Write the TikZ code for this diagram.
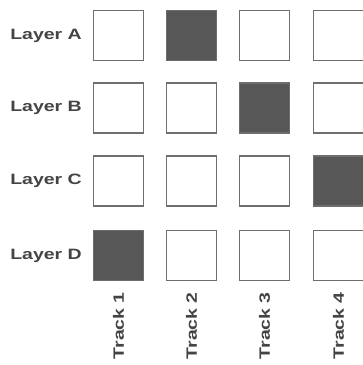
\documentclass[tikz,border=0pt]{standalone}
\usepackage{fontspec}
\setmainfont{Liberation Sans}
\usepackage{graphicx}
\definecolor{edgegray}{HTML}{6E6E6E}
\definecolor{darkfill}{HTML}{575757}
\definecolor{txtgray}{HTML}{444444}
\newcommand{\lbltext}[1]{\scalebox{1.3}[1]{\fontsize{15}{15}\selectfont #1}}
\begin{document}
\begin{tikzpicture}[x=1pt,y=-1pt,
  cell/.style={draw=edgegray,line width=1.4pt,minimum size=50pt,inner sep=0pt,fill=white},
  on/.style={cell,fill=darkfill},
  rowlbl/.style={anchor=east,inner sep=0pt,text=txtgray,font=\bfseries},
  collbl/.style={anchor=east,rotate=90,inner sep=0pt,text=txtgray,font=\bfseries}]
\useasboundingbox (0,0) rectangle (363,365);
% rows
\node[rowlbl] (la) at (82,35.5) {\lbltext{Layer A}};
\node[rowlbl] (lb) at (82,108) {\lbltext{Layer B}};
\node[rowlbl] (lc) at (82,181) {\lbltext{Layer C}};
\node[rowlbl] (ld) at (82,255.5) {\lbltext{Layer D}};
% row A
\node[cell] (a1) at (118.5,35.5) {};
\node[on]   (a2) at (191.5,35.5) {};
\node[cell] (a3) at (264.5,35.5) {};
\node[cell] (a4) at (338.5,35.5) {};
% row B
\node[cell] (b1) at (118.5,108) {};
\node[cell] (b2) at (191.5,108) {};
\node[on]   (b3) at (264.5,108) {};
\node[cell] (b4) at (338.5,108) {};
% row C
\node[cell] (c1) at (118.5,181) {};
\node[cell] (c2) at (191.5,181) {};
\node[cell] (c3) at (264.5,181) {};
\node[on]   (c4) at (338.5,181) {};
% row D
\node[on]   (d1) at (118.5,255.5) {};
\node[cell] (d2) at (191.5,255.5) {};
\node[cell] (d3) at (264.5,255.5) {};
\node[cell] (d4) at (338.5,255.5) {};
% columns
\node[collbl] (t1) at (118.5,292) {\lbltext{Track 1}};
\node[collbl] (t2) at (191.5,292) {\lbltext{Track 2}};
\node[collbl] (t3) at (264.5,292) {\lbltext{Track 3}};
\node[collbl] (t4) at (338.5,292) {\lbltext{Track 4}};
\end{tikzpicture}
\end{document}
